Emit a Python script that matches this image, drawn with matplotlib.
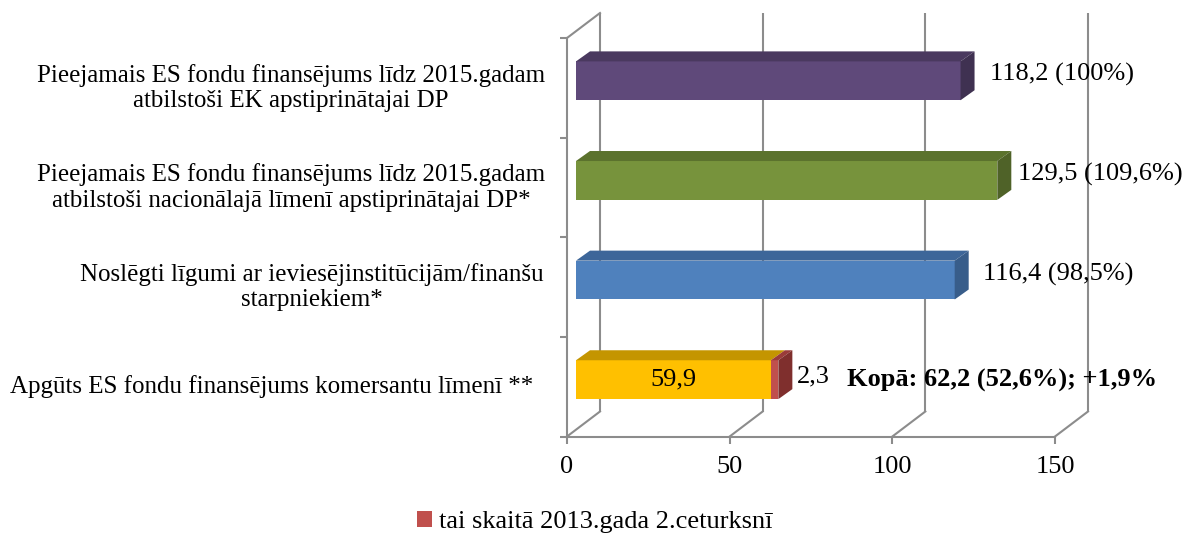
import matplotlib
matplotlib.use("Agg")
import matplotlib.pyplot as plt
from matplotlib.patches import Polygon, Patch
from matplotlib.transforms import offset_copy
import numpy as np

plt.rcParams['font.family'] = ['Liberation Serif', 'DejaVu Serif']

# ---------------- data ----------------
categories = [
    "Pieejamais ES fondu finansējums līdz 2015.gadam\natbilstoši EK apstiprinātajai DP",
    "Pieejamais ES fondu finansējums līdz 2015.gadam\natbilstoši nacionālajā līmenī apstiprinātajai DP*",
    "Noslēgti līgumi ar ieviesējinstitūcijām/finanšu\nstarpniekiem*",
    "Apgūts ES fondu finansējums komersantu līmenī **",
]
base_values = [118.2, 129.5, 116.4, 59.9]
quarter_values = [0.0, 0.0, 0.0, 2.3]
value_labels = ["118,2 (100%)", "129,5 (109,6%)", "116,4 (98,5%)", "59,9"]
quarter_label = "2,3"
total_label = "Kopā: 62,2 (52,6%); +1,9%"
legend_label = "tai skaitā 2013.gada 2.ceturksnī"
xticks = [0, 50, 100, 150]
xticklabels = ["0", "50", "100", "150"]

# ---------------- styles ----------------
front_cols = ["#5F497A", "#77933C", "#4F81BD", "#FFC000"]
top_cols = ["#4A395F", "#5B722D", "#3D6699", "#C49500"]
side_cols = ["#3F3151", "#4F6228", "#385D8A", "#A07A00"]
red_front, red_top, red_side = "#C0504D", "#9A3B39", "#7F2F2D"
gridc = "#8C8C8C"
FS = 18     # category labels
FSV = 19    # data labels, ticks

W, H = 1189, 535
fig = plt.figure(figsize=(W / 100, H / 100), dpi=100)
x0, x1 = 567, 1055
ytop, ybot = 38, 436.5
ax = fig.add_axes([x0 / W, (H - ybot) / H, (x1 - x0) / W, (ybot - ytop) / H])
ax.set_xlim(0, 150)
ax.set_ylim(3.5, -0.5)
for s in ax.spines.values():
    s.set_visible(False)
ax.patch.set_visible(False)

fig.canvas.draw()


def off(dx, dy):
    """pixel offset (dx right, dy up) -> data offset"""
    p0 = ax.transData.transform((0, 0))
    p = ax.transData.inverted().transform(p0 + np.array([dx, dy]))
    return p[0], p[1]


wx, wy = off(33, 25)      # back wall offset
fx, fy = off(9, 7)        # bar front face offset
dx_, dy_ = off(14, 10)    # bar depth

yb, yt = 3.5, -0.5
lw = 1.5
# back wall verticals and floor diagonals
for t in xticks:
    ax.plot([t + wx, t + wx], [yb + wy, yt + wy], color=gridc, lw=lw, zorder=1,
            solid_capstyle='butt', clip_on=False)
    ax.plot([t, t + wx], [yb, yb + wy], color=gridc, lw=lw, zorder=1, clip_on=False)
# side wall top edge
ax.plot([0, wx], [yt, yt + wy], color=gridc, lw=lw, zorder=1, clip_on=False)
# front axes lines
ax.plot([0, 150], [yb, yb], color=gridc, lw=lw, zorder=1, clip_on=False)
ax.plot([0, 0], [yb, yt], color=gridc, lw=lw, zorder=1, clip_on=False)

ax.set_xticks(xticks)
ax.set_xticklabels(xticklabels, fontsize=FSV)
ax.set_yticks([-0.5, 0.5, 1.5, 2.5, 3.5])
ax.set_yticklabels([])
ax.tick_params(axis='both', length=5, width=lw, color=gridc)
ax.tick_params(axis='x', pad=9)

bh = 0.39


def draw_box(left, width, y, fc, tc, sc, show_side=True, z=5):
    l = left + fx
    r = left + width + fx
    top = y - bh / 2 + fy
    bot = y + bh / 2 + fy
    ax.barh([y + fy], [width], left=[l], height=bh, color=fc, zorder=z, edgecolor='none')
    ax.add_patch(Polygon([(l, top), (r, top), (r + dx_, top + dy_), (l + dx_, top + dy_)],
                         closed=True, facecolor=tc, edgecolor='none', zorder=z))
    if show_side:
        ax.add_patch(Polygon([(r, top), (r + dx_, top + dy_), (r + dx_, bot + dy_), (r, bot)],
                             closed=True, facecolor=sc, edgecolor='none', zorder=z))


for i, v in enumerate(base_values):
    draw_box(0, v, i, front_cols[i], top_cols[i], side_cols[i], show_side=quarter_values[i] == 0)
    if quarter_values[i] > 0:
        draw_box(v, quarter_values[i], i, red_front, red_top, red_side, z=6)

# value labels
lab_dx = [38, 30, 37]
for i in range(3):
    tr = offset_copy(ax.transData, fig=fig, x=lab_dx[i], y=13, units='dots')
    ax.text(base_values[i], i, value_labels[i], transform=tr, fontsize=FSV,
            ha='left', va='center', zorder=10)
# stacked bar labels
tr = offset_copy(ax.transData, fig=fig, x=9, y=7, units='dots')
ax.text(base_values[3] / 2, 3, value_labels[3], transform=tr, fontsize=FSV,
        ha='center', va='center', zorder=10)
tot = base_values[3] + quarter_values[3]
tr = offset_copy(ax.transData, fig=fig, x=28, y=10, units='dots')
ax.text(tot, 3, quarter_label, transform=tr, fontsize=FSV, ha='left', va='center', zorder=10)
tr = offset_copy(ax.transData, fig=fig, x=78, y=6, units='dots')
ax.text(tot, 3, total_label, transform=tr, fontsize=FSV, ha='left', va='center',
        fontweight='bold', zorder=10)

# category labels (right-aligned blocks, centred lines)
cat_dx = [-22, -22, -23, -34]
for i, c in enumerate(categories):
    tr = offset_copy(ax.transData, fig=fig, x=cat_dx[i], y=0, units='dots')
    ax.text(0, i, c, transform=tr, fontsize=FS, ha='right', va='center',
            multialignment='center', linespacing=1.2)

# legend
fig.legend(handles=[Patch(facecolor=red_front, edgecolor='none', label=legend_label)],
           loc='center', bbox_to_anchor=(595 / W, (H - 522) / H), frameon=False,
           fontsize=19, handlelength=0.55, handleheight=0.55, handletextpad=0.3)

fig.savefig("out.png", dpi=100)
